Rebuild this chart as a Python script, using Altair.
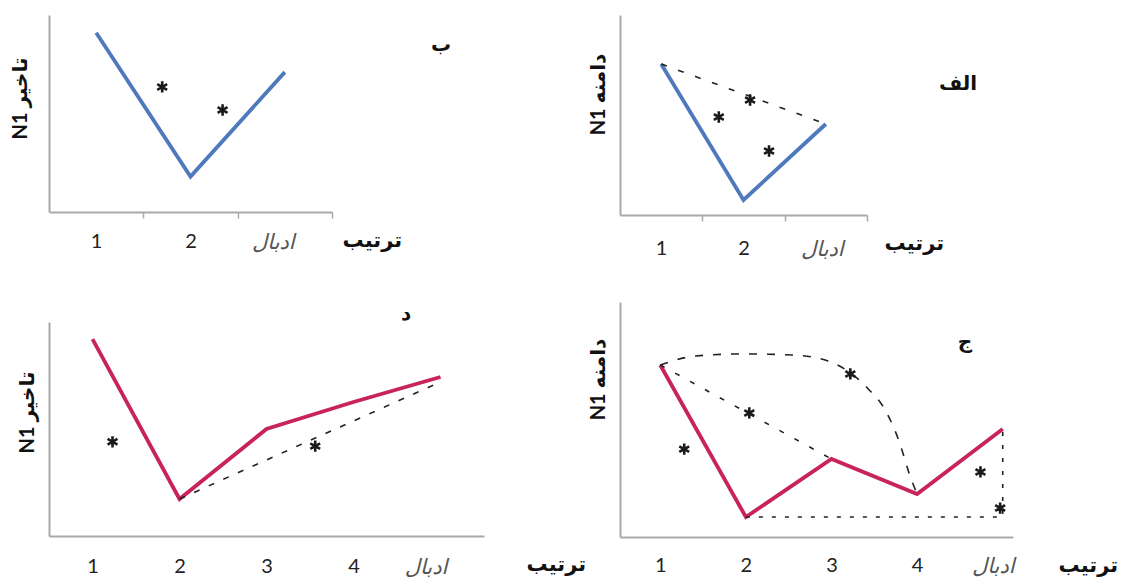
import altair as alt
import pandas as pd

# ---------------- data (arbitrary 0-100 units) ----------------
TL_X = [1, 2, 3]
TL_Y = [91, 18, 71]
TL_STAR_X = [1.70, 2.34]
TL_STAR_Y = [63.5, 51.8]

TR_X = [1, 2, 3]
TR_Y = [75.5, 7.5, 45.5]
TR_DASH_X = [1, 3]
TR_DASH_Y = [75.5, 45.5]
TR_STAR_X = [1.70, 2.08, 2.31]
TR_STAR_Y = [49, 57.5, 32]

BL_X = [1, 2, 3, 4, 5]
BL_Y = [92, 17.3, 50, 62.6, 74.3]
BL_DASH_X = [2, 5]
BL_DASH_Y = [17.3, 72]
BL_STAR_X = [1.23, 3.56]
BL_STAR_Y = [44, 42]

BR_X = [1, 2, 3, 4, 5]
BR_Y = [73.2, 8.5, 33.2, 18.3, 46]
BR_ARC_X = [1.0, 1.41, 1.94, 2.57, 2.96, 3.43, 3.62, 3.78, 3.93, 4.0]
BR_ARC_Y = [73.2, 77, 77.9, 77.4, 74.9, 63, 54.5, 41.7, 24.7, 18.3]
BR_DIAG_X = [1, 3]
BR_DIAG_Y = [73.2, 33.2]
BR_BRACKET_X = [2, 5, 5]
BR_BRACKET_Y = [8.5, 8.5, 46]
BR_STAR_X = [1.28, 2.04, 3.22, 4.74, 4.97]
BR_STAR_Y = [37.4, 52.8, 69.4, 27.7, 12.3]

X_TITLE = "ترتیب"
LAST_LABEL = "ادبال"
LATENCY = "N1 تاخیر"
AMPLITUDE = "N1 دامنه"

BLUE = "#4f79bd"
RED = "#c8245a"
AXIS = "#a9a9a9"
AR_FONT = "Lato, 'DejaVu Sans'"
ASTERISK = "M0,-1L0,1M-0.87,-0.5L0.87,0.5M-0.87,0.5L0.87,-0.5"


def panel(xs, ys, color, n, domain, width, height, ytitle, title_y, title_x,
          xtitle_dx, label_pad, ticks, last_off, letter, letter_pos, stars, dashes):
    vals = [1, 1.5, 2, 2.5, 3, 3.5] if ticks else [1, 2, 3, 4, 5]
    last = f"datum.value == {n}"
    extra = {}
    if ticks:
        extra["tickOpacity"] = {"condition": {"test": "datum.value % 1 == 0", "value": 0}, "value": 1}
    xaxis = alt.Axis(
        values=vals,
        labelExpr=f"datum.value % 1 != 0 ? '' : ({last} ? '{LAST_LABEL}' : format(datum.value, 'd'))",
        labelFontStyle={"condition": {"test": last, "value": "italic"}, "value": "normal"},
        labelColor={"condition": {"test": last, "value": "#555555"}, "value": "#222222"},
        labelFont={"condition": {"test": last, "value": "DejaVu Sans"}, "value": "Lato"},
        labelFontSize={"condition": {"test": last, "value": 21}, "value": 20},
        labelOffset={"condition": {"test": last, "value": last_off}, "value": 0},
        labelPadding=label_pad,
        labelOverlap=False, labelFlush=False, labelBound=False,
        ticks=ticks, tickColor=AXIS, tickWidth=1.5, tickSize=6,
        domainColor=AXIS, domainWidth=2, grid=False,
        title=X_TITLE, titleFont="DejaVu Sans", titleFontWeight="bold", titleFontSize=21,
        titleColor="#111111", titleX=width + xtitle_dx, titleY=28, titleAlign="left",
        titleBaseline="middle", titleAngle=0,
        **extra,
    )
    yaxis = alt.Axis(
        labels=False, ticks=False, grid=False, domainColor=AXIS, domainWidth=2,
        title=ytitle, titleFont=AR_FONT, titleFontWeight="bold", titleFontSize=20,
        titleColor="#111111", titleX=title_x, titleY=title_y, titleAngle=270,
        titleAlign="center", titleBaseline="middle",
    )
    xs_scale = alt.Scale(domain=domain, nice=False, zero=False)
    ys_scale = alt.Scale(domain=[0, 100], nice=False, zero=False)

    main = alt.Chart(pd.DataFrame({"x": xs, "y": ys})).mark_line(
        color=color, strokeWidth=3.8
    ).encode(
        x=alt.X("x:Q", scale=xs_scale, axis=xaxis),
        y=alt.Y("y:Q", scale=ys_scale, axis=yaxis),
    )
    layers = [main]
    for dx, dy, dash, interp in dashes:
        df = pd.DataFrame({"x": dx, "y": dy, "o": list(range(len(dx)))})
        layers.append(
            alt.Chart(df).mark_line(
                color="#222222", strokeWidth=1.6, strokeDash=dash, interpolate=interp
            ).encode(x="x:Q", y="y:Q", order="o:Q")
        )
    sx, sy = stars
    layers.append(
        alt.Chart(pd.DataFrame({"x": sx, "y": sy})).mark_point(
            shape=ASTERISK, filled=False, stroke="#1a1a1a", strokeWidth=2.6, size=130, opacity=1
        ).encode(x="x:Q", y="y:Q")
    )
    layers.append(
        alt.Chart(pd.DataFrame({"t": [letter]})).mark_text(
            font="DejaVu Sans", fontWeight="bold", fontSize=20, color="#111111"
        ).encode(text="t:N", x=alt.value(letter_pos[0]), y=alt.value(letter_pos[1]))
    )
    return alt.layer(*layers).properties(width=width, height=height)


tl = panel(TL_X, TL_Y, BLUE, 3, [0.5, 3.5], 283, 197, LATENCY, 83, -29, 10, 13, True, -12,
           "ب", (392, 30), (TL_STAR_X, TL_STAR_Y), [])
tr = panel(TR_X, TR_Y, BLUE, 3, [0.5, 3.5], 247, 200, AMPLITUDE, 79, -22, 17, 17, True, -4,
           "الف", (338, 69), (TR_STAR_X, TR_STAR_Y),
           [(TR_DASH_X, TR_DASH_Y, [6, 12], "linear")])
bl = panel(BL_X, BL_Y, RED, 5, [0.5, 5.5], 435, 214, LATENCY, 90, -22, 42, 20, False, -15,
           "د", (357, -8), (BL_STAR_X, BL_STAR_Y),
           [(BL_DASH_X, BL_DASH_Y, [6, 10], "linear")])
br = panel(BR_X, BR_Y, RED, 5, [0.53, 5.12], 393, 235, AMPLITUDE, 77, -22, 45, 18, False, -10,
           "ج", (345, 40), (BR_STAR_X, BR_STAR_Y),
           [(BR_ARC_X, BR_ARC_Y, [8, 10], "monotone"),
            (BR_DIAG_X, BR_DIAG_Y, [5, 12], "linear"),
            (BR_BRACKET_X, BR_BRACKET_Y, [4, 9], "linear")])

left = alt.vconcat(tl, bl, spacing=110, bounds="flush")
right = alt.vconcat(tr, br, spacing=87, bounds="flush")
chart = alt.hconcat(left, right, spacing=2).properties(
    padding={"left": 2, "top": 7, "right": 0, "bottom": 0},
    background="white",
).configure_view(stroke=None)

chart.save("out.html", embed_options={"renderer": "svg", "actions": False})
